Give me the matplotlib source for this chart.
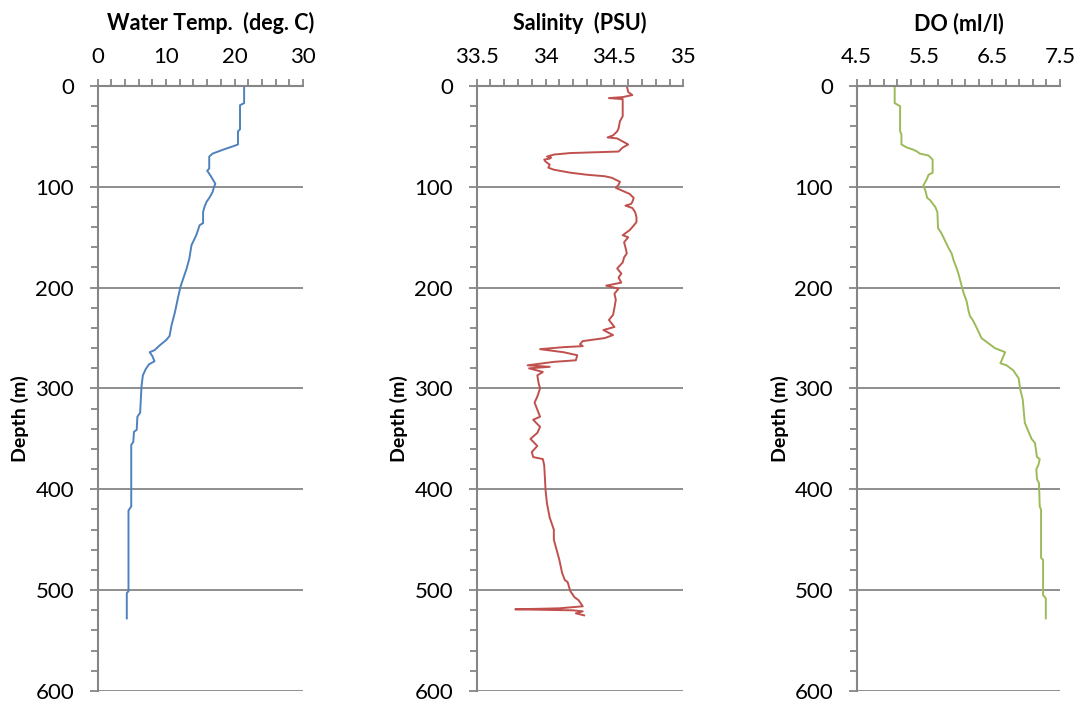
import matplotlib
matplotlib.use("Agg")
import numpy as np
import matplotlib.pyplot as plt
from matplotlib.ticker import MultipleLocator, FixedLocator

plt.rcParams['font.family'] = ['Lato', 'DejaVu Sans']

# 水温剖面
temp_depth = [0, 17, 19, 43, 45, 58, 60, 62, 64, 67, 70, 82, 84, 89, 97, 100, 105, 110,
              115, 120, 125, 136, 138, 148, 158, 171, 181, 191, 199, 211, 224, 237, 248,
              252, 257, 262, 264, 268, 273, 276, 281, 287, 298, 324, 328, 341, 343, 353,
              356, 417, 421, 501, 503, 528]
temp = [21.4, 21.4, 20.8, 20.8, 20.5, 20.5, 19.7, 18.8, 18.0, 16.8, 16.3, 16.3, 16.0, 16.5,
        17.2, 17.0, 16.8, 16.4, 15.9, 15.6, 15.4, 15.4, 14.9, 14.4, 13.7, 13.4, 13.0, 12.5,
        12.1, 11.7, 11.3, 10.8, 10.5, 10.0, 9.1, 8.3, 7.6, 8.0, 8.3, 7.5, 7.0, 6.6, 6.4,
        6.2, 5.8, 5.7, 5.3, 5.2, 4.9, 4.9, 4.5, 4.5, 4.25, 4.25]

# 盐度剖面
sal_depth = [0, 6, 9, 11, 12, 13, 22, 30, 35, 42, 45, 49, 51, 52, 55, 58, 61, 65, 66.5, 68,
             70, 71, 72, 73, 75, 78, 81, 83, 86, 88, 89.5, 91, 95, 98, 101, 104, 107, 111,
             115, 117, 118.6, 121, 125, 130, 135, 140, 143, 146, 148, 150, 155, 160, 166,
             170, 175, 181, 186, 190, 195, 198, 201, 206, 212, 220, 227, 232, 239, 242, 247,
             250, 253, 256, 258, 259, 261, 264, 267, 272, 273.6, 277, 278.5, 280, 283.6,
             287, 295, 300, 308, 314, 321, 328, 331, 338, 344, 350, 357, 363, 368, 370, 376,
             401, 414, 428, 440, 450, 460, 470, 483, 490, 492, 501, 507, 510, 516, 518, 519,
             520, 521, 523, 525]
sal = [34.59, 34.60, 34.63, 34.56, 34.46, 34.56, 34.56, 34.56, 34.54, 34.53, 34.52, 34.49,
       34.45, 34.52, 34.56, 34.60, 34.56, 34.53, 34.18, 34.06, 34.01, 34.04, 34.03, 33.99,
       34.00, 34.03, 34.02, 34.06, 34.18, 34.30, 34.43, 34.48, 34.54, 34.53, 34.51, 34.56,
       34.61, 34.64, 34.63, 34.62, 34.58, 34.63, 34.65, 34.66, 34.66, 34.63, 34.61, 34.58,
       34.56, 34.60, 34.57, 34.58, 34.59, 34.57, 34.56, 34.52, 34.55, 34.53, 34.55, 34.44,
       34.53, 34.50, 34.51, 34.50, 34.49, 34.46, 34.50, 34.42, 34.49, 34.43, 34.27, 34.25,
       34.27, 34.13, 33.96, 34.13, 34.23, 34.22, 34.06, 33.87, 34.03, 33.88, 33.98, 33.94,
       33.95, 33.96, 33.94, 33.92, 33.94, 33.96, 33.91, 33.96, 33.94, 33.89, 33.94, 33.90,
       33.91, 33.98, 33.99, 34.00, 34.01, 34.03, 34.06, 34.06, 34.08, 34.10, 34.12, 34.14,
       34.16, 34.18, 34.21, 34.24, 34.27, 34.10, 33.78, 34.20, 34.27, 34.22, 34.28]

# 溶解氧剖面
do_depth = [0, 17, 20, 45, 48, 58, 61, 63, 65, 67, 69, 73, 86, 88, 93, 99, 103, 111, 113,
            120, 125, 141, 146, 153, 160, 166, 173, 180, 186, 196, 206, 213, 223, 228, 233,
            244, 250, 255, 260, 264, 275, 277, 282, 290, 300, 311, 334, 342, 350, 354, 368,
            370, 376, 380, 390, 394, 417, 420, 468, 470, 505, 508, 528]
do = [5.06, 5.06, 5.14, 5.14, 5.16, 5.16, 5.24, 5.33, 5.39, 5.43, 5.56, 5.62, 5.62, 5.56,
      5.53, 5.48, 5.51, 5.54, 5.58, 5.66, 5.69, 5.70, 5.75, 5.80, 5.85, 5.90, 5.93, 5.97,
      6.00, 6.04, 6.08, 6.12, 6.15, 6.17, 6.22, 6.30, 6.34, 6.44, 6.54, 6.69, 6.62, 6.71,
      6.81, 6.89, 6.91, 6.95, 6.98, 7.03, 7.08, 7.13, 7.16, 7.20, 7.18, 7.15, 7.16, 7.19,
      7.20, 7.22, 7.22, 7.25, 7.25, 7.29, 7.29]

grey = '#868686'

fig = plt.figure(figsize=(10.82, 7.09), dpi=100)


def profile(rect, x, y, color, xlim, xlabels, xminor, title, title_dx=0.0):
    ax = fig.add_axes(rect)
    ax.plot(x, y, color=color, lw=1.4)
    ax.set_xlim(*xlim)
    ax.set_ylim(600, 0)
    ax.xaxis.tick_top()
    ax.set_xticks([float(v) for v in xlabels])
    ax.set_xticklabels(xlabels)
    ax.xaxis.set_minor_locator(FixedLocator(np.arange(xlim[0], xlim[1] + 1e-9, xminor)))
    ax.yaxis.set_major_locator(MultipleLocator(100))
    ax.yaxis.set_minor_locator(MultipleLocator(20))
    ax.tick_params(which='both', color=grey, width=1.3, length=5, direction='out')
    ax.tick_params(axis='y', which='major', length=6, pad=11, labelsize=16)
    ax.tick_params(axis='x', which='major', pad=9, labelsize=16)
    ax.grid(axis='y', which='major', color=grey, lw=1.3)
    for s in ['right', 'bottom']:
        ax.spines[s].set_visible(False)
    for s in ['left', 'top']:
        ax.spines[s].set_color(grey)
        ax.spines[s].set_linewidth(1.5)
    ax.set_ylabel('Depth (m)', fontsize=14, fontweight='bold')
    ax.yaxis.set_label_coords(-0.335, 0.45)
    ax.set_title(title, fontsize=15.5, fontweight='bold', pad=40, x=0.5 + title_dx)
    ax.set_axisbelow(True)
    return ax


ax1 = profile([0.0903, 0.0254, 0.1897, 0.8533], temp, temp_depth, '#4F81BD',
              (0, 30), ['0', '10', '20', '30'], 2, 'Water Temp.  (deg. C)', 0.05)
ax2 = profile([0.4406, 0.0254, 0.1909, 0.8533], sal, sal_depth, '#C0504D',
              (33.5, 35), ['33.5', '34', '34.5', '35'], 0.1, 'Salinity  (PSU)')
ax3 = profile([0.7918, 0.0254, 0.1879, 0.8533], do, do_depth, '#9BBB59',
              (4.5, 7.5), ['4.5', '5.5', '6.5', '7.5'], 0.2, 'DO (ml/l)')

fig.savefig('out.png', dpi=100)
